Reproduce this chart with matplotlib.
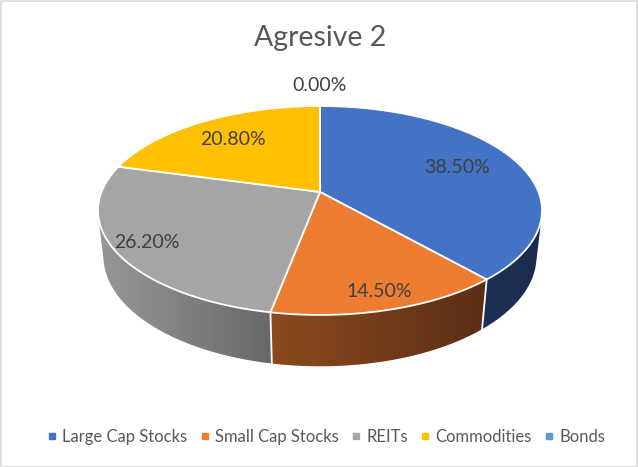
import numpy as np
import matplotlib
matplotlib.use("Agg")
import matplotlib.pyplot as plt
from matplotlib.patches import Polygon, Rectangle
from matplotlib.lines import Line2D
from matplotlib.colors import LinearSegmentedColormap

plt.rcParams['font.family'] = ['Lato', 'DejaVu Sans']

title = "Agresive 2"
categories = ["Large Cap Stocks", "Small Cap Stocks", "REITs", "Commodities", "Bonds"]
shares = [38.5, 14.5, 26.2, 20.8, 0.0]
value_labels = ["38.50%", "14.50%", "26.20%", "20.80%", "0.00%"]

top_colors = ["#4472C4", "#ED7D31", "#A5A5A5", "#FFC000", "#5B9BD5"]
wall_light = ["#1E3158", "#8C4A1F", "#989898", "#7F6000", "#2E4D6B"]
wall_dark = ["#1A2B4C", "#5A2F15", "#686868", "#7F6000", "#2E4D6B"]
label_r = [0.7, 0.87, 0.86, 0.72, 1.3]

# simple perspective view of a flat cylinder, radius 1
phi = np.radians(30)
dist = 5.0
thick = 0.24
s, c = np.sin(phi), np.cos(phi)


def project(x, y, z):
    depth = dist + z * c - y * s
    return x / depth, (y * c + z * s) / depth


# fit the top face into the pixel box of the reference
left_px, right_px, top_px = 98, 542, 106
t = np.linspace(0, 2 * np.pi, 721)
u, v = project(np.sin(t), thick, np.cos(t))
k = (right_px - left_px) / (u.max() - u.min())
x0 = (left_px + right_px) / 2 - k * (u.max() + u.min()) / 2
vmax = v.max()


def to_px(x, y, z):
    uu, vv = project(x, y, z)
    return x0 + k * uu, top_px + k * (vmax - vv)


fig = plt.figure(figsize=(6.38, 4.67), dpi=100)
ax = fig.add_axes([0, 0, 1, 1])
ax.set_xlim(0, 638)
ax.set_ylim(467, 0)
ax.axis("off")

fracs = np.array(shares) / sum(shares)
bounds = np.concatenate([[0], np.cumsum(fracs)]) * 2 * np.pi

# visible part of the outer wall
th_a = np.arccos(-1 / (dist * c))
th_b = 2 * np.pi - th_a

for i in range(len(shares)):
    a0, a1 = max(bounds[i], th_a), min(bounds[i + 1], th_b)
    if a1 <= a0:
        continue
    th = np.linspace(a0, a1, 200)
    xt, yt = to_px(np.sin(th), thick, np.cos(th))
    xb, yb = to_px(np.sin(th), 0, np.cos(th))
    pts = list(zip(xt, yt)) + list(zip(xb[::-1], yb[::-1]))
    wall = Polygon(pts, closed=True, facecolor="none", edgecolor="none")
    ax.add_patch(wall)
    xmin, xmax = min(xt.min(), xb.min()), max(xt.max(), xb.max())
    ymin, ymax = min(yt.min(), yb.min()), max(yt.max(), yb.max())
    cmap = LinearSegmentedColormap.from_list("w%d" % i, [wall_light[i], wall_dark[i]])
    img = ax.imshow(np.linspace(0, 1, 256)[None, :], cmap=cmap, aspect="auto",
                    extent=(xmin - 1, xmax + 1, ymax + 1, ymin - 1), interpolation="bilinear")
    img.set_clip_path(wall)

ax.set_xlim(0, 638)
ax.set_ylim(467, 0)

# white seams on the wall between slices
for b in bounds[1:-1]:
    if th_a < b < th_b:
        xa, ya = to_px(np.sin(b), thick, np.cos(b))
        xb_, yb_ = to_px(np.sin(b), 0, np.cos(b))
        ax.plot([xa, xb_], [ya, yb_], color="white", lw=1.3)

# top faces
cx, cy = to_px(0, thick, 0)
for i in range(len(shares)):
    if shares[i] <= 0:
        continue
    th = np.linspace(bounds[i], bounds[i + 1], 200)
    xs, ys = to_px(np.sin(th), thick, np.cos(th))
    pts = [(cx, cy)] + list(zip(xs, ys))
    ax.add_patch(Polygon(pts, closed=True, facecolor=top_colors[i],
                         edgecolor="white", lw=1.3, joinstyle="round"))

# data labels
for i in range(len(shares)):
    mid = (bounds[i] + bounds[i + 1]) / 2
    r = label_r[i]
    lx, ly = to_px(r * np.sin(mid), thick, r * np.cos(mid))
    ax.text(lx, ly, value_labels[i], ha="center", va="center",
            fontsize=14, color="#404040")

ax.text(320, 38, title, ha="center", va="center", fontsize=20.5, color="#595959")

handles = [Line2D([], [], marker="s", ls="", color=col, markersize=5) for col in top_colors]
fig.legend(handles, categories, loc="center", bbox_to_anchor=(0.512, 1 - 437 / 467),
           ncol=5, frameon=False, fontsize=12, handlelength=0.5, handletextpad=0.35,
           columnspacing=0.8, labelcolor="#595959")

fig.add_artist(Rectangle((0.001, 0.001), 0.997, 0.997, transform=fig.transFigure,
                         fill=False, edgecolor="#D9D9D9", lw=1.2))

fig.savefig("out.png", dpi=100)
